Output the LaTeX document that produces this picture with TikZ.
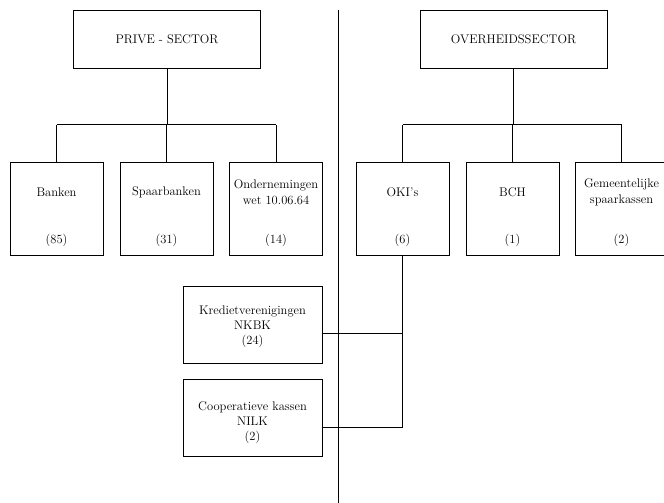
\documentclass[tikz,border=0pt]{standalone}
\usepackage{tikz}
\usetikzlibrary{positioning,calc}
\tikzset{
    sector/.style={
        rectangle,
        draw,
        minimum width=187pt,
        minimum height=58pt,
        font=\fontsize{12.5}{15}\selectfont
    },
    instbox/.style={
        rectangle,
        draw,
        minimum width=93pt,
        minimum height=93pt
    },
    lowbox/.style={
        rectangle,
        draw,
        minimum width=139pt,
        minimum height=77pt
    },
    lbl/.style={
        align=center,
        inner sep=0pt,
        font=\fontsize{12.5}{16}\selectfont
    }
}

\begin{document}
\begin{tikzpicture}[x=1pt,y=-1pt,line width=0.9pt]
        \useasboundingbox (0,0) rectangle (664,503);

        % de twee sectoren
        \node[sector] (prive) at (167,39) {PRIVE - SECTOR};
        \node[sector] (overheid) at (513.5,39) {OVERHEIDSSECTOR};

        % scheidingslijn
        \coordinate (divtop) at (338,10);
        \coordinate (divbot) at (338,503);
        \draw (divtop) -- (divbot);

        % instellingen
        \node[instbox] (banken) at (56.5,208.5) {};
        \node[instbox] (spaar) at (166.5,208.5) {};
        \node[instbox] (onder) at (276,208.5) {};
        \node[instbox] (oki) at (402.5,208.5) {};
        \node[instbox] (bch) at (512.5,208.5) {};
        \node[instbox] (gem) at (621.5,208.5) {};

        \node[lbl] at ([yshift=-31pt]banken.north) {Banken};
        \node[lbl] at ([yshift=-31pt]spaar.north) {Spaarbanken};
        \node[lbl] at ([yshift=-31pt]onder.north) {Ondernemingen\\wet 10.06.64};
        \node[lbl] at ([yshift=-31pt]oki.north) {OKI's};
        \node[lbl] at ([yshift=-31pt]bch.north) {BCH};
        \node[lbl] at ([yshift=-31pt]gem.north) {Gemeentelijke\\spaarkassen};

        \node[lbl] at ([yshift=15pt]banken.south) {(85)};
        \node[lbl] at ([yshift=15pt]spaar.south) {(31)};
        \node[lbl] at ([yshift=15pt]onder.south) {(14)};
        \node[lbl] at ([yshift=15pt]oki.south) {(6)};
        \node[lbl] at ([yshift=15pt]bch.south) {(1)};
        \node[lbl] at ([yshift=15pt]gem.south) {(2)};

        % boomstructuur
        \draw (prive.south) -- (prive.south |- 0,125);
        \draw (overheid.south) -- (overheid.south |- 0,125);
        \foreach \b in {banken,spaar,onder,oki,bch,gem}
            \draw (\b.north) -- ++(0,37pt);
        \draw ([yshift=37pt]banken.north) -- ([yshift=37pt]onder.north);
        \draw ([yshift=37pt]oki.north) -- ([yshift=37pt]gem.north);

        % kredietinstellingen
        \node[lowbox] (kred) at (252.5,324.5) {};
        \node[lowbox] (coop) at (252.5,418) {};
        \node[lbl,font=\fontsize{12.5}{15}\selectfont] at ([yshift=-2.5pt]kred.center) {Kredietverenigingen\\NKBK\\(24)};
        \node[lbl,font=\fontsize{12.5}{15}\selectfont] at ([yshift=-5pt]coop.center) {Cooperatieve kassen\\NILK\\(2)};

        \draw ([yshift=-8.5pt]kred.east) -| (oki.south);
        \draw ([yshift=-9pt]coop.east) -| (oki.south);

\end{tikzpicture}
\end{document}
